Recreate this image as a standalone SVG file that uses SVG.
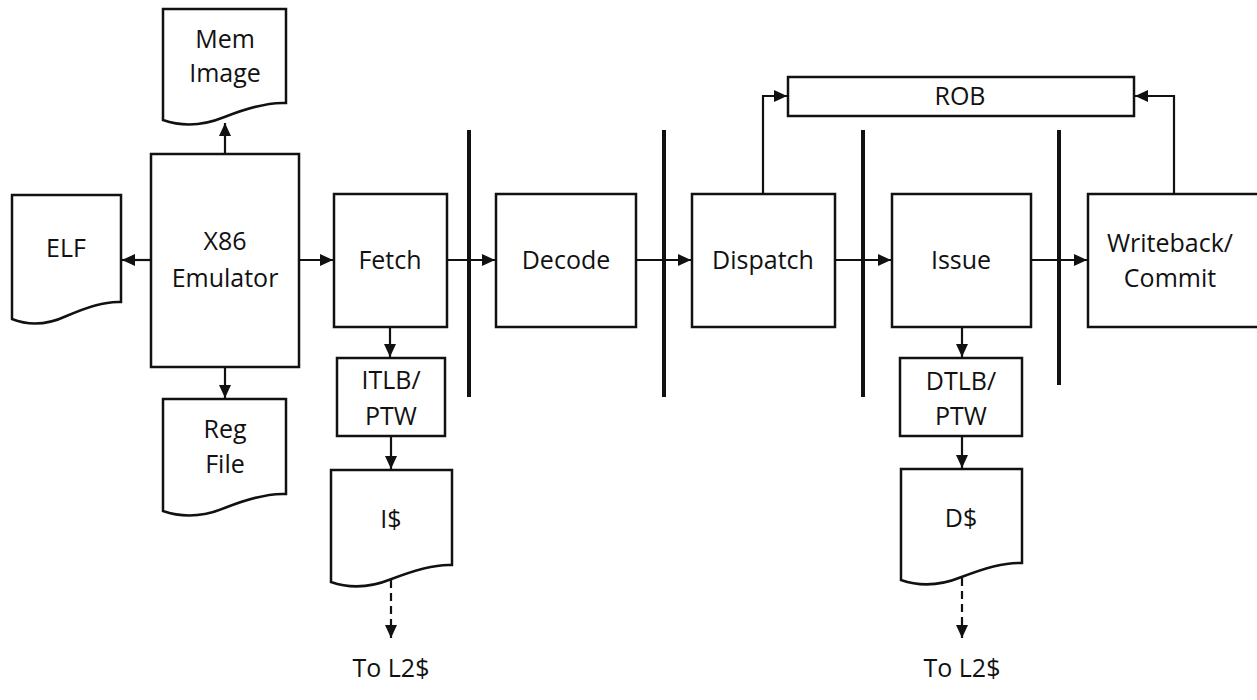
<svg xmlns="http://www.w3.org/2000/svg" width="1257" height="700" viewBox="0 0 1257 700">
<style>
.box{fill:#fff;stroke:#111;stroke-width:2.5}
.bar{stroke:#111;stroke-width:4;fill:none}
.ln{stroke:#111;stroke-width:2.2;fill:none;marker-end:url(#ah)}
.dash{stroke-dasharray:8 5}
text{font-family:"Open Sans","DejaVu Sans",sans-serif;font-size:25px;fill:#111;text-anchor:middle}
</style>
<defs>
<marker id="ah" markerUnits="userSpaceOnUse" markerWidth="15" markerHeight="13" refX="13" refY="6" orient="auto">
<path d="M0,0 L13,6 L0,12 z" fill="#111"/>
</marker>
</defs>
<rect width="1257" height="700" fill="#fff"/>
<g id="connectors">
<path class="ln" d="M225,154 V123"/>
<path class="ln" d="M151,260 H122"/>
<path class="ln" d="M299,260 H333"/>
<path class="ln" d="M225,367 V398"/>
<path class="ln" d="M447,260 H495"/>
<path class="ln" d="M636,260 H691"/>
<path class="ln" d="M835,260 H891"/>
<path class="ln" d="M1031,260 H1087"/>
<path class="ln" d="M390,327 V357"/>
<path class="ln" d="M391,436 V469"/>
<path class="ln dash" d="M391,580 V638"/>
<path class="ln" d="M962,327 V357"/>
<path class="ln" d="M962,436 V468"/>
<path class="ln dash" d="M962,578 V638"/>
<path class="ln" d="M763,194 V96 H787"/>
<path class="ln" d="M1174,194 V96 H1135"/>
</g>
<g id="stage-bars">
<line class="bar" x1="469" y1="130" x2="469" y2="397"/>
<line class="bar" x1="664" y1="130" x2="664" y2="397"/>
<line class="bar" x1="863" y1="130" x2="863" y2="397"/>
<line class="bar" x1="1059" y1="130" x2="1059" y2="385"/>
</g>
<g id="mem-image">
<path class="box" d="M163,9 H286 V103 C270,102 250,107 224.5,117 C200,127 180,126 163,120 Z"/>
<text x="225" y="48">Mem</text>
<text x="225" y="82">Image</text>
</g>
<g id="elf">
<path class="box" d="M12,195 H121 V302 C107,301 89,306 66.5,316 C45,326 27,325 12,319 Z"/>
<text x="66" y="257">ELF</text>
</g>
<g id="emulator">
<rect class="box" x="151" y="154" width="148" height="213"/>
<text x="225" y="250">X86</text>
<text x="225" y="287">Emulator</text>
</g>
<g id="reg-file">
<path class="box" d="M163,399 H286 V494 C270,493 250,498 224.5,508 C200,518 180,517 163,511 Z"/>
<text x="225" y="438">Reg</text>
<text x="225" y="473">File</text>
</g>
<g id="fetch">
<rect class="box" x="334" y="194" width="113" height="133"/>
<text x="390" y="269">Fetch</text>
</g>
<g id="itlb">
<rect class="box" x="337" y="358" width="108" height="78"/>
<text x="391" y="389">ITLB/</text>
<text x="391" y="425">PTW</text>
</g>
<g id="icache">
<path class="box" d="M331,470 H452 V565 C436,564 417,569 391.5,579 C367,589 348,588 331,582 Z"/>
<text x="391" y="528">I$</text>
</g>
<g id="l2-left">
<text x="391" y="677">To L2$</text>
</g>
<g id="decode">
<rect class="box" x="496" y="194" width="140" height="133"/>
<text x="566" y="269">Decode</text>
</g>
<g id="dispatch">
<rect class="box" x="692" y="194" width="143" height="133"/>
<text x="763" y="269">Dispatch</text>
</g>
<g id="rob">
<rect class="box" x="788" y="77" width="346" height="39"/>
<text x="960" y="105">ROB</text>
</g>
<g id="issue">
<rect class="box" x="892" y="194" width="139" height="133"/>
<text x="961" y="269">Issue</text>
</g>
<g id="dtlb">
<rect class="box" x="900" y="358" width="122" height="78"/>
<text x="961" y="390">DTLB/</text>
<text x="961" y="425">PTW</text>
</g>
<g id="dcache">
<path class="box" d="M901,469 H1022 V563 C1006,562 987,567 961.5,577 C937,587 918,586 901,580 Z"/>
<text x="961" y="527">D$</text>
</g>
<g id="l2-right">
<text x="962" y="677">To L2$</text>
</g>
<g id="writeback">
<rect class="box" x="1088" y="194" width="180" height="133"/>
<text x="1170" y="252">Writeback/</text>
<text x="1170" y="287">Commit</text>
</g>
</svg>
